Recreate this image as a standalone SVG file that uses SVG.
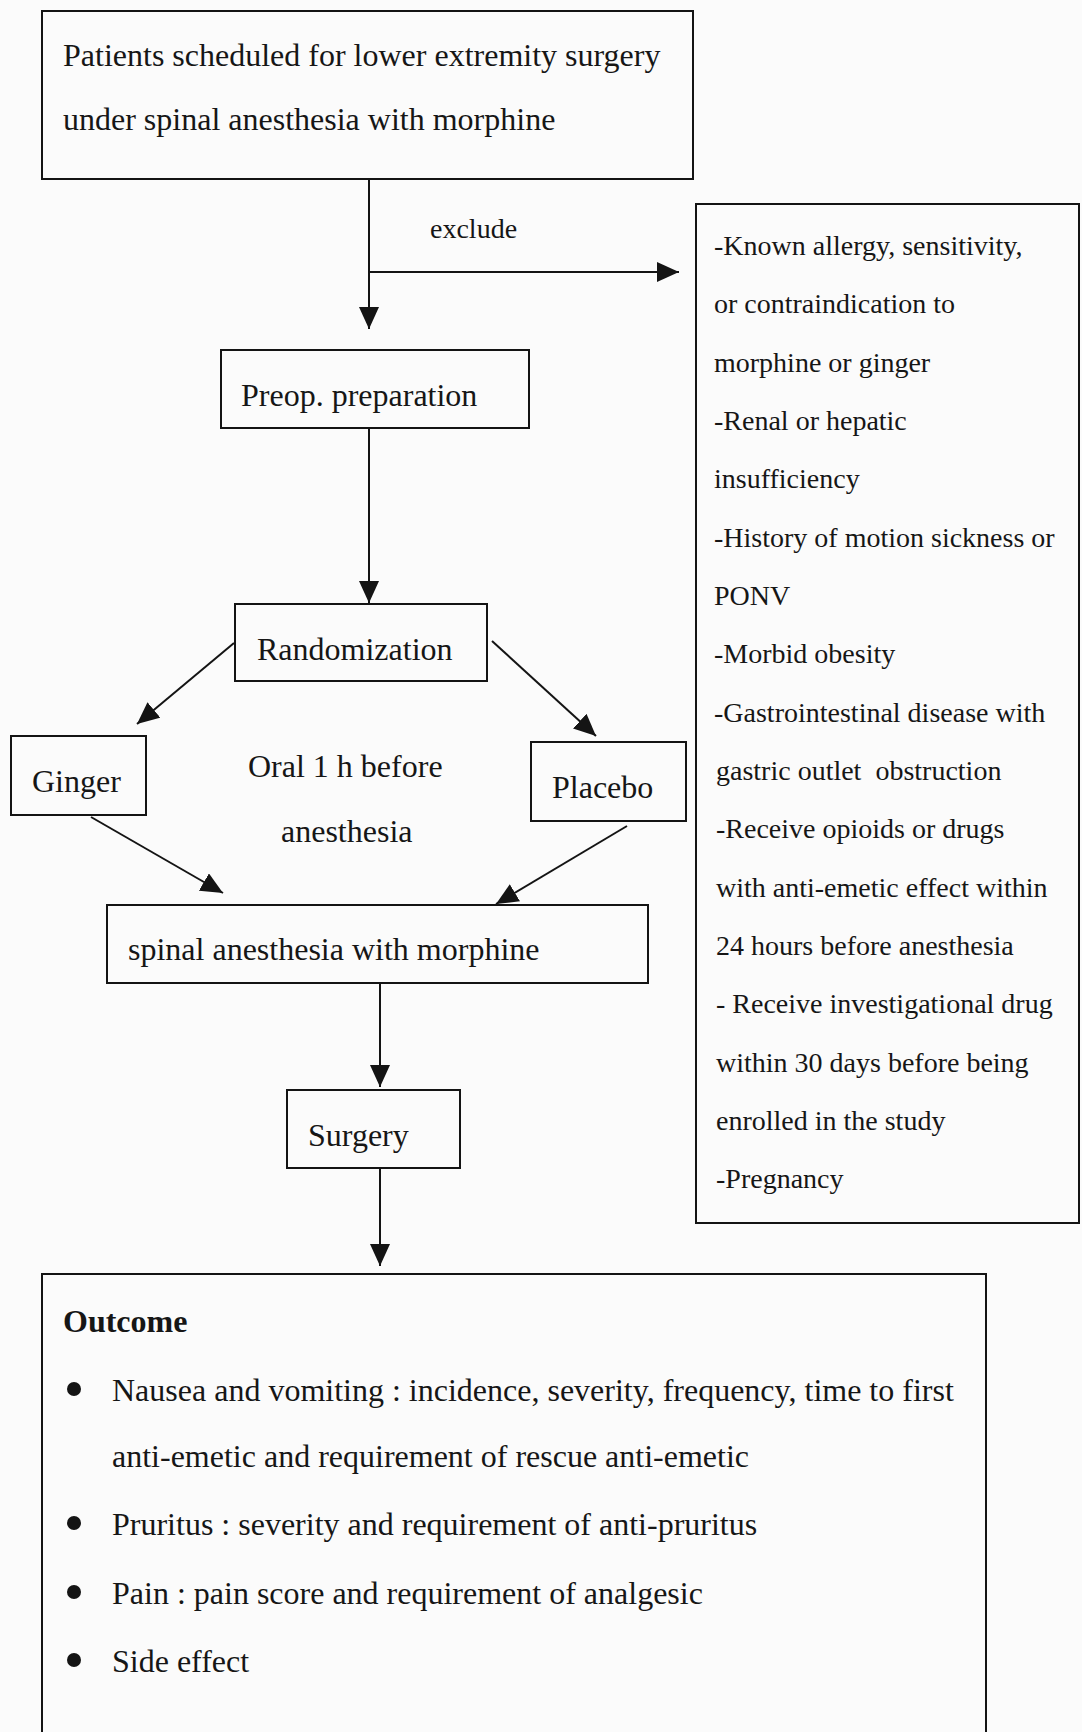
<svg xmlns="http://www.w3.org/2000/svg" width="1082" height="1732" viewBox="0 0 1082 1732">
<style>
.box{fill:none;stroke:#141414;stroke-width:2}
.con{fill:none;stroke:#141414;stroke-width:2}
text{font-family:"Liberation Serif","Times New Roman",serif;fill:#161616}
.l{font-size:32px}
.r{font-size:28px}
.b{font-weight:bold}
</style>
<defs>
<marker id="arr" markerUnits="userSpaceOnUse" markerWidth="22" markerHeight="20" refX="22" refY="10" orient="auto">
<path d="M0,0 L22,10 L0,20 z" fill="#141414"/>
</marker>
</defs>
<rect width="1082" height="1732" fill="#fbfbfb"/>
<g id="connectors">
<line class="con" x1="369" y1="179" x2="369" y2="329" marker-end="url(#arr)"/>
<line class="con" x1="369" y1="272" x2="679" y2="272" marker-end="url(#arr)"/>
<line class="con" x1="369" y1="428" x2="369" y2="603" marker-end="url(#arr)"/>
<line class="con" x1="234" y1="643" x2="137" y2="724" marker-end="url(#arr)"/>
<line class="con" x1="492" y1="641" x2="596" y2="736" marker-end="url(#arr)"/>
<line class="con" x1="91" y1="817" x2="223" y2="893" marker-end="url(#arr)"/>
<line class="con" x1="627" y1="826" x2="496" y2="904" marker-end="url(#arr)"/>
<line class="con" x1="380" y1="983" x2="380" y2="1087" marker-end="url(#arr)"/>
<line class="con" x1="380" y1="1168" x2="380" y2="1266" marker-end="url(#arr)"/>
<text class="r" x="430" y="238">exclude</text>
</g>
<g id="patients">
<rect class="box" x="42" y="11" width="651" height="168"/>
<text class="l" x="63" y="66">Patients scheduled for lower extremity surgery</text>
<text class="l" x="63" y="130">under spinal anesthesia with morphine</text>
</g>
<g id="exclusion">
<rect class="box" x="696" y="204" width="383" height="1019"/>
<text class="r" x="714" y="255">-Known allergy, sensitivity,</text>
<text class="r" x="714" y="313">or contraindication to</text>
<text class="r" x="714" y="372">morphine or ginger</text>
<text class="r" x="714" y="430">-Renal or hepatic</text>
<text class="r" x="714" y="488">insufficiency</text>
<text class="r" x="714" y="547">-History of motion sickness or</text>
<text class="r" x="714" y="605">PONV</text>
<text class="r" x="714" y="663">-Morbid obesity</text>
<text class="r" x="714" y="722">-Gastrointestinal disease with</text>
<text class="r" x="716" y="780" xml:space="preserve">gastric outlet  obstruction</text>
<text class="r" x="716" y="838">-Receive opioids or drugs</text>
<text class="r" x="716" y="897">with anti-emetic effect within</text>
<text class="r" x="716" y="955">24 hours before anesthesia</text>
<text class="r" x="716" y="1013">- Receive investigational drug</text>
<text class="r" x="716" y="1072">within 30 days before being</text>
<text class="r" x="716" y="1130">enrolled in the study</text>
<text class="r" x="716" y="1188">-Pregnancy</text>
</g>
<g id="preop">
<rect class="box" x="221" y="350" width="308" height="78"/>
<text class="l" x="241" y="406">Preop. preparation</text>
</g>
<g id="randomization">
<rect class="box" x="235" y="604" width="252" height="77"/>
<text class="l" x="257" y="660">Randomization</text>
</g>
<g id="ginger">
<rect class="box" x="11" y="736" width="135" height="79"/>
<text class="l" x="32" y="792">Ginger</text>
</g>
<g id="placebo">
<rect class="box" x="531" y="742" width="155" height="79"/>
<text class="l" x="552" y="798">Placebo</text>
</g>
<g id="oral-label">
<text class="l" x="248" y="777">Oral 1 h before</text>
<text class="l" x="281" y="842">anesthesia</text>
</g>
<g id="spinal">
<rect class="box" x="107" y="905" width="541" height="78"/>
<text class="l" x="128" y="960">spinal anesthesia with morphine</text>
</g>
<g id="surgery">
<rect class="box" x="287" y="1090" width="173" height="78"/>
<text class="l" x="308" y="1146">Surgery</text>
</g>
<g id="outcome">
<path class="box" d="M42,1745 V1274 H986 V1745"/>
<text class="l b" x="63" y="1332">Outcome</text>
<circle cx="74" cy="1389" r="7" fill="#141414"/>
<text class="l" x="112" y="1401">Nausea and vomiting : incidence, severity, frequency, time to first</text>
<text class="l" x="112" y="1467">anti-emetic and requirement of rescue anti-emetic</text>
<circle cx="74" cy="1523" r="7" fill="#141414"/>
<text class="l" x="112" y="1535">Pruritus : severity and requirement of anti-pruritus</text>
<circle cx="74" cy="1592" r="7" fill="#141414"/>
<text class="l" x="112" y="1604">Pain : pain score and requirement of analgesic</text>
<circle cx="74" cy="1660" r="7" fill="#141414"/>
<text class="l" x="112" y="1672">Side effect</text>
</g>
</svg>
